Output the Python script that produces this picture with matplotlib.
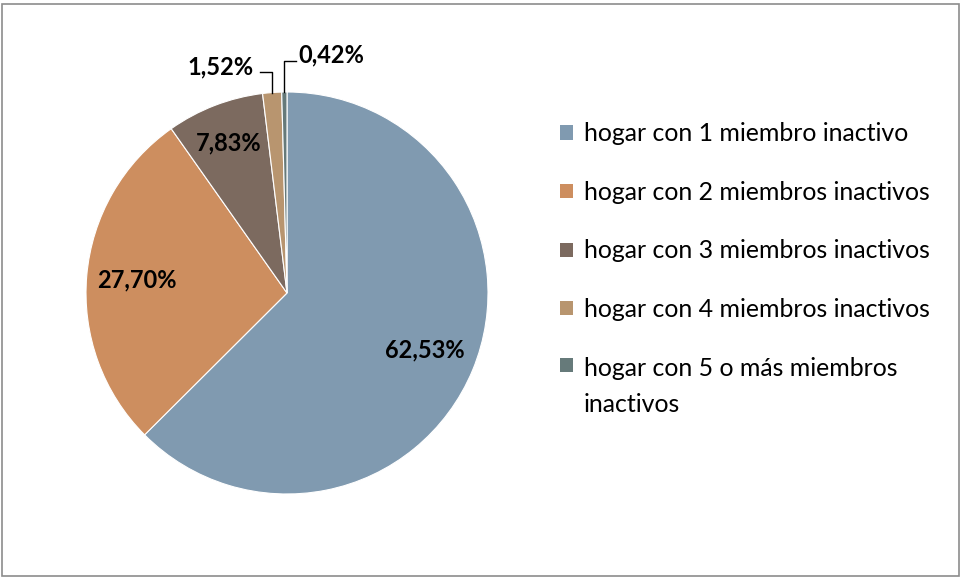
import matplotlib
matplotlib.use("Agg")
import matplotlib.pyplot as plt
from matplotlib.patches import Patch, Rectangle
from matplotlib.legend_handler import HandlerPatch
import numpy as np

categories = ["hogar con 1 miembro inactivo",
              "hogar con 2 miembros inactivos",
              "hogar con 3 miembros inactivos",
              "hogar con 4 miembros inactivos",
              "hogar con 5 o más miembros\ninactivos"]
values = [62.53, 27.70, 7.83, 1.52, 0.42]
colors = ["#809AB0", "#CD8E5F", "#7C6A5F", "#B8956F", "#667A7A"]

plt.rcParams['font.family'] = ['Lato', 'DejaVu Sans']

W, H = 961, 578
fig = plt.figure(figsize=(W/100, H/100), dpi=100)
fig.patches.append(Rectangle((1.5/W, 2.5/H), (W-4)/W, (H-6)/H, transform=fig.transFigure,
                             fill=False, edgecolor="#8c8c8c", linewidth=1.2))

cx, cy, r = 287, 293, 201
ax = fig.add_axes([(cx - r)/W, (H - cy - r)/H, 2*r/W, 2*r/H])
wedges, _ = ax.pie(values, colors=colors, startangle=90, counterclock=False,
                   wedgeprops=dict(edgecolor="white", linewidth=0.8))
ax.set_xlim(-1, 1)
ax.set_ylim(-1, 1)
ax.set_aspect("equal")
ax.axis("off")

LFS = 17
fmt = lambda v: f"{v:.2f}%".replace(".", ",")
inside_r = [0.74, 0.75, 0.80]
for i, (w, v) in enumerate(zip(wedges, values)):
    ang = np.deg2rad((w.theta1 + w.theta2) / 2)
    if i < 3:
        ax.text(inside_r[i]*np.cos(ang), inside_r[i]*np.sin(ang), fmt(v),
                ha="center", va="center", fontsize=LFS, fontweight="bold", color="black")

# small slices with leader lines
a4 = np.deg2rad((wedges[3].theta1 + wedges[3].theta2) / 2)
p4 = (np.cos(a4), np.sin(a4))
ax.plot([p4[0], p4[0], p4[0] - 0.06], [p4[1], 1.10, 1.10], color="black", lw=1, clip_on=False)
ax.text(p4[0] - 0.09, 1.125, fmt(values[3]), ha="right", va="center",
        fontsize=LFS, fontweight="bold")
a5 = np.deg2rad((wedges[4].theta1 + wedges[4].theta2) / 2)
p5 = (np.cos(a5), np.sin(a5))
ax.plot([p5[0], p5[0], p5[0] + 0.06], [p5[1], 1.155, 1.155], color="black", lw=1, clip_on=False)
ax.text(p5[0] + 0.07, 1.185, fmt(values[4]), ha="left", va="center",
        fontsize=LFS, fontweight="bold")


class TopLineHandler(HandlerPatch):
    def __init__(self, shift, **kw):
        super().__init__(**kw)
        self.shift = shift

    def create_artists(self, legend, orig_handle, xdescent, ydescent, width, height,
                       fontsize, trans):
        return super().create_artists(legend, orig_handle, xdescent, ydescent - self.shift,
                                      width, height, fontsize, trans)


GFS = 17.9
handles = [Patch(facecolor=c, edgecolor="none") for c in colors]
leg = fig.legend(handles, categories, loc="upper left", bbox_to_anchor=(538/W, 1 - 100/H),
                 frameon=False, fontsize=GFS, handlelength=0.5, handleheight=0.5,
                 handletextpad=0.45, labelspacing=1.43,
                 handler_map={handles[-1]: TopLineHandler(shift=15.6)})
leg.get_texts()[-1].set_linespacing(1.7)

fig.savefig("out.png", dpi=100)
